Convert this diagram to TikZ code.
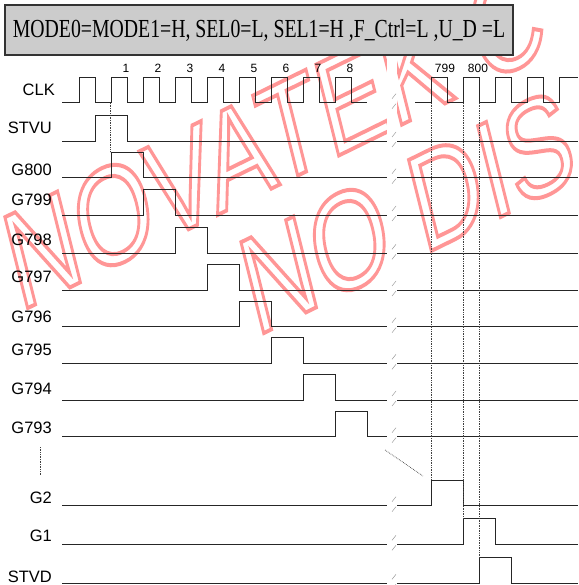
\documentclass[tikz,border=0pt]{standalone}
\usepackage{fontspec}
\setmainfont{Liberation Serif}
\setsansfont{Liberation Sans}
\usetikzlibrary{calc}
\definecolor{wmred}{RGB}{255,150,150}
\definecolor{boxgray}{RGB}{204,204,204}
\tikzset{
  sig/.style={line width=0.9pt, black!85},
  guide/.style={densely dotted, line width=0.7pt, black!75},
  brk/.style={line width=0.4pt, black!45},
  lbl/.style={font=\sffamily\fontsize{16.5}{18}\selectfont, anchor=east, inner sep=0pt},
  num/.style={font=\sffamily\fontsize{12}{14}\selectfont, inner sep=0pt},
  wm/.style={font=\sffamily\fontsize{140}{150}\selectfont, text=wmred, anchor=base west, inner sep=0pt, rotate=19.3},
}
\newcommand\wmtext[1]{\special{pdf:literal direct 1 Tr 4 w}#1\special{pdf:literal direct 0 Tr}}

\begin{document}
\begin{tikzpicture}[x=1pt,y=-1pt]
\useasboundingbox (0,0) rectangle (578,585);

\begin{scope}
\clip (0,0) rectangle (578,585);
\begin{scope}[xscale=0.714, transform shape]
\node[wm] (wm1) at (27.7,312) {\wmtext{NOVATEK C}};
\node[wm] (wm2) at (358.3,337) {\wmtext{NO DIS}};
\end{scope}
\end{scope}
\fill[white] (387,56) rectangle (397,585);

\node[draw=black!80, line width=1.2pt, fill=boxgray, minimum width=508pt, minimum height=50pt, inner sep=0pt] (title) at (259,30)
  {\scalebox{0.76}[1]{\fontsize{26}{28}\selectfont MODE0=MODE1=H, SEL0=L, SEL1=H ,F\_Ctrl=L ,U\_D =L}};

% clock
\node[lbl] (l-CLK) at (55,90) {CLK};
\draw[sig] (62,102.7) foreach \k in {0,...,8} { -- ({79+32*\k},102.7) -- ++(0,-25.4) -- ++(16,0) -- ++(0,25.4) } -- (367,102.7);
\draw[sig] (415,102.7) foreach \k in {0,...,3} { -- ({431.7+32*\k},102.7) -- ++(0,-25.4) -- ++(16,0) -- ++(0,25.4) } -- (559.3,102.7) -- ++(0,-25.4) -- (578,77.3);
\foreach \k in {1,...,8}
  \node[num] (n\k) at ({94+32*\k},68) {\k};
\node[num] (n799) at (445,68) {799};
\node[num] (n800) at (478,68) {800};

% pulses before the break
\foreach \name/\low/\rise/\ly in {STVU/141/95.7/128, G800/177.7/111/170, G799/215/143/200, G798/253.3/175/240,
    G797/290/207/277, G796/326.7/239/317, G795/363.3/271/350, G794/400/303/389, G793/436.7/335/428} {
  \node[lbl] (l-\name) at (52,\ly) {\name};
  \draw[sig] (62,\low) -- (\rise,\low) -- ++(0,-25.5) -- ++(32,0) -- ++(0,25.5) -- (387,\low);
  \draw[sig] (397,\low) -- (578,\low);
}

% pulses after the break
\foreach \name/\low/\rise/\ly in {G2/505.7/431.7/498, G1/544.3/463.3/536, STVD/583.3/479.3/577} {
  \node[lbl] (l-\name) at (52,\ly) {\name};
  \draw[sig] (62,\low) -- (387,\low);
  \draw[sig] (397,\low) -- (\rise,\low) -- ++(0,-25.5) -- ++(32,0) -- ++(0,25.5) -- (578,\low);
}

% break marks
\foreach \low in {102.7,141,177.7,215,253.3,290,326.7,363.3,400,436.7,505.7,544.3,583.3} {
  \draw[brk] (392,{\low-4}) -- (396,{\low-9});
  \draw[brk] (392,{\low+6}) -- (396,{\low+1});
}

% guides
\draw[guide] (110.7,103) -- (110.7,152.3);
\draw[guide] (431.7,103) -- (431.7,480.2);
\draw[guide] (463.3,103) -- (463.3,518.8);
\draw[guide] (479.3,103) -- (479.3,557.8);
\draw[guide] (40,447) -- (40,475);
\draw[guide] (385,450) -- (423,476);

\end{tikzpicture}
\end{document}
